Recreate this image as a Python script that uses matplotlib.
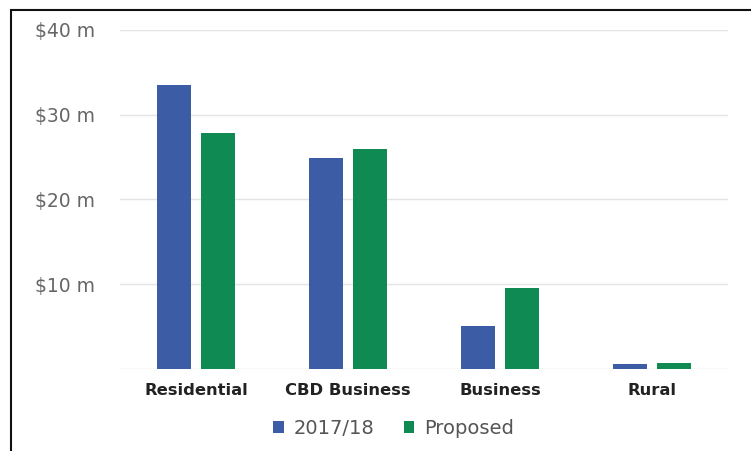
import numpy as np
import matplotlib
matplotlib.use('Agg')
import matplotlib.pyplot as plt
from matplotlib.patches import Rectangle

# rates revenue by category, $ millions
categories = ['Residential', 'CBD Business', 'Business', 'Rural']
current = [33.5, 24.9, 5.1, 0.6]
proposed = [27.8, 26.0, 9.6, 0.7]
series_names = ['2017/18', 'Proposed']
yticks = [0, 10, 20, 30, 40]
ytick_labels = ['', '$10 m', '$20 m', '$30 m', '$40 m']

blue = '#3c5ca6'
green = '#0e8a52'

plt.rcParams['font.family'] = ['DejaVu Sans']

fig = plt.figure(figsize=(7.51, 4.51), dpi=100)
ax = fig.add_axes([120 / 751, 82 / 451, 608 / 751, 339 / 451])

x = np.arange(len(categories))
w = 0.22
ax.bar(x - 0.145, current, w, color=blue, label=series_names[0], zorder=3)
ax.bar(x + 0.145, proposed, w, color=green, label=series_names[1], zorder=3)

ax.set_xlim(-0.5, len(categories) - 0.5)
ax.set_ylim(0, 40)
ax.set_yticks(yticks)
ax.set_yticklabels(ytick_labels, color='#666666', fontsize=13.5)
ax.tick_params(axis='y', length=0, pad=18)
ax.set_xticks(x)
ax.set_xticklabels(categories, fontsize=11.8, fontweight='bold', color='#222222')
ax.tick_params(axis='x', length=0, pad=10)

ax.grid(axis='y', color='#e4e4e4', linewidth=1, zorder=0)
for s in ax.spines.values():
    s.set_visible(False)

ax.legend(loc='upper center', bbox_to_anchor=(0.45, -0.095), ncol=2, frameon=False,
          fontsize=14, labelcolor='#555555', handlelength=0.55, handleheight=0.55,
          handletextpad=0.5, columnspacing=1.5)

# outer frame, open at right and bottom
fig.patches.append(Rectangle((11 / 751, -0.2), 1.2, 1.2 - 10 / 451,
                             transform=fig.transFigure, fill=False,
                             edgecolor='#111111', linewidth=1.5))

fig.savefig('out.png', dpi=100, facecolor='white')
